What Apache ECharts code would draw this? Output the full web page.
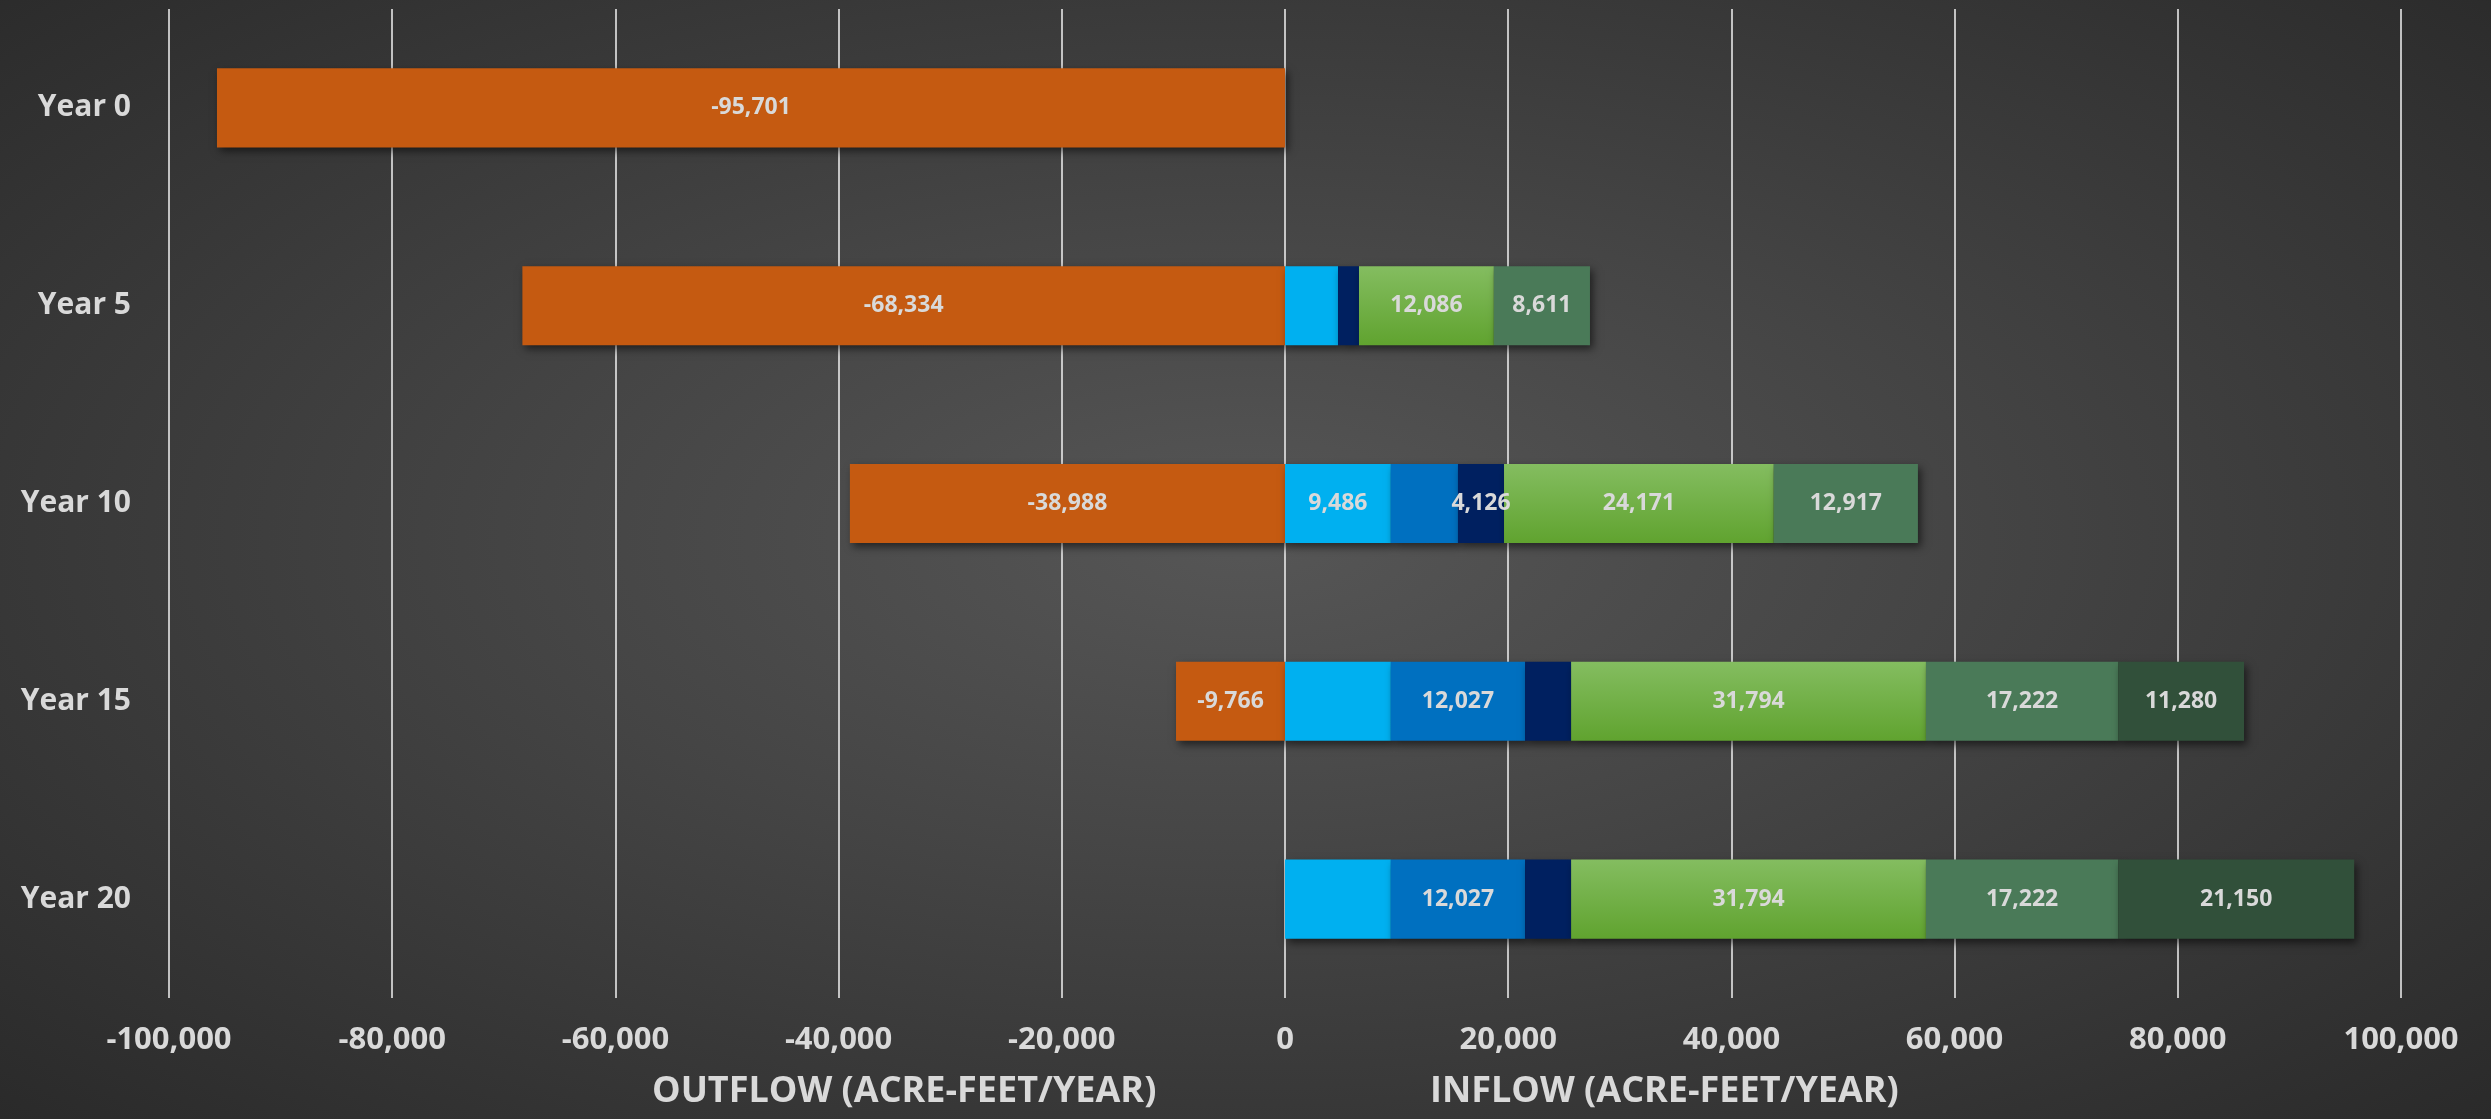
<!DOCTYPE html>
<html>
<head>
<meta charset="utf-8">
<script src="https://cdn.jsdelivr.net/npm/echarts@6/dist/echarts.min.js"></script>
<style>
html,body{margin:0;padding:0;width:2491px;height:1119px;overflow:hidden;
background:radial-gradient(ellipse at 50% 48%, #565656 0%, #454545 40%, #2a2a2a 100%);}
#chart{width:2491px;height:1119px;}
</style>
</head>
<body>
<div id="chart"></div>
<script>
// ---- data ----
const categories = ['Year 0', 'Year 5', 'Year 10', 'Year 15', 'Year 20'];
const outflow    = [-95701, -68334, -38988, -9766, null];
const lightBlue  = [null, 4750, 9486, 9486, 9486];
const midBlue    = [null, null, 6014, 12027, 12027];
const navy       = [null, 1880, 4126, 4126, 4126];
const green      = [null, 12086, 24171, 31794, 31794];
const greyGreen  = [null, 8611, 12917, 17222, 17222];
const darkGreen  = [null, null, null, 11280, 21150];
// which data labels are visible in the original
const showOutflow   = [true, true, true, true, false];
const showLightBlue = [false, false, true, false, false];
const showMidBlue   = [false, false, false, true, true];
const showNavy      = [false, false, true, false, false];
const showGreen     = [false, true, true, true, true];
const showGreyGreen = [false, true, true, true, true];
const showDarkGreen = [false, false, false, true, true];
const xTicks = { min: -100000, max: 100000, interval: 20000 };
const outflowTitle = 'OUTFLOW (ACRE-FEET/YEAR)';
const inflowTitle = 'INFLOW (ACRE-FEET/YEAR)';

const fmt = v => Number(v).toLocaleString('en-US');
const FONT = '"Open Sans", "DejaVu Sans", sans-serif';
const TXT = '#d9d9d9';

function mkSeries(name, values, shows, color) {
  return {
    name: name,
    type: 'bar',
    stack: 'total',
    barWidth: '40%',
    itemStyle: {
      color: color,
      shadowColor: 'rgba(0,0,0,0.55)',
      shadowBlur: 8,
      shadowOffsetX: 3,
      shadowOffsetY: 4
    },
    label: {
      position: 'inside',
      color: TXT,
      fontFamily: FONT,
      fontWeight: 'bold',
      fontSize: 23,
      formatter: p => fmt(p.value)
    },
    data: values.map((v, i) => ({ value: v, label: { show: !!shows[i] && v != null } }))
  };
}

const greenGrad = new echarts.graphic.LinearGradient(0, 0, 0, 1, [
  { offset: 0, color: '#84bd60' },
  { offset: 1, color: '#60a32f' }
]);

const chart = echarts.init(document.getElementById('chart'), null, { renderer: 'canvas' });
chart.setOption({
  backgroundColor: 'transparent',
  animation: false,
  grid: { left: 169, right: 90, top: 9, bottom: 121, containLabel: false },
  xAxis: {
    type: 'value',
    min: xTicks.min, max: xTicks.max, interval: xTicks.interval,
    axisLine: { show: false },
    axisTick: { show: false },
    splitLine: { show: true, lineStyle: { color: '#f2f2f2', width: 1.5 } },
    axisLabel: {
      color: TXT, fontFamily: FONT, fontWeight: 'bold', fontSize: 31, margin: 27,
      formatter: v => fmt(v)
    }
  },
  yAxis: {
    type: 'category',
    inverse: true,
    data: categories,
    axisLine: { show: false },
    axisTick: { show: false },
    splitLine: { show: false },
    axisLabel: {
      color: TXT, fontFamily: FONT, fontWeight: 'bold', fontSize: 30, margin: 38
    }
  },
  graphic: [
    { type: 'text', left: 652, top: 1074,
      style: { text: outflowTitle, fill: TXT, font: 'bold 36px ' + FONT } },
    { type: 'text', left: 1430, top: 1074,
      style: { text: inflowTitle, fill: TXT, font: 'bold 36px ' + FONT } }
  ],
  series: [
    mkSeries('Outflow', outflow, showOutflow, '#c55a11'),
    mkSeries('Light blue', lightBlue, showLightBlue, '#00b0f0'),
    mkSeries('Mid blue', midBlue, showMidBlue, '#0070c0'),
    mkSeries('Navy', navy, showNavy, '#002060'),
    mkSeries('Green', green, showGreen, greenGrad),
    mkSeries('Grey green', greyGreen, showGreyGreen, '#4a7a58'),
    mkSeries('Dark green', darkGreen, showDarkGreen, '#31503a')
  ]
});
</script>
</body>
</html>
